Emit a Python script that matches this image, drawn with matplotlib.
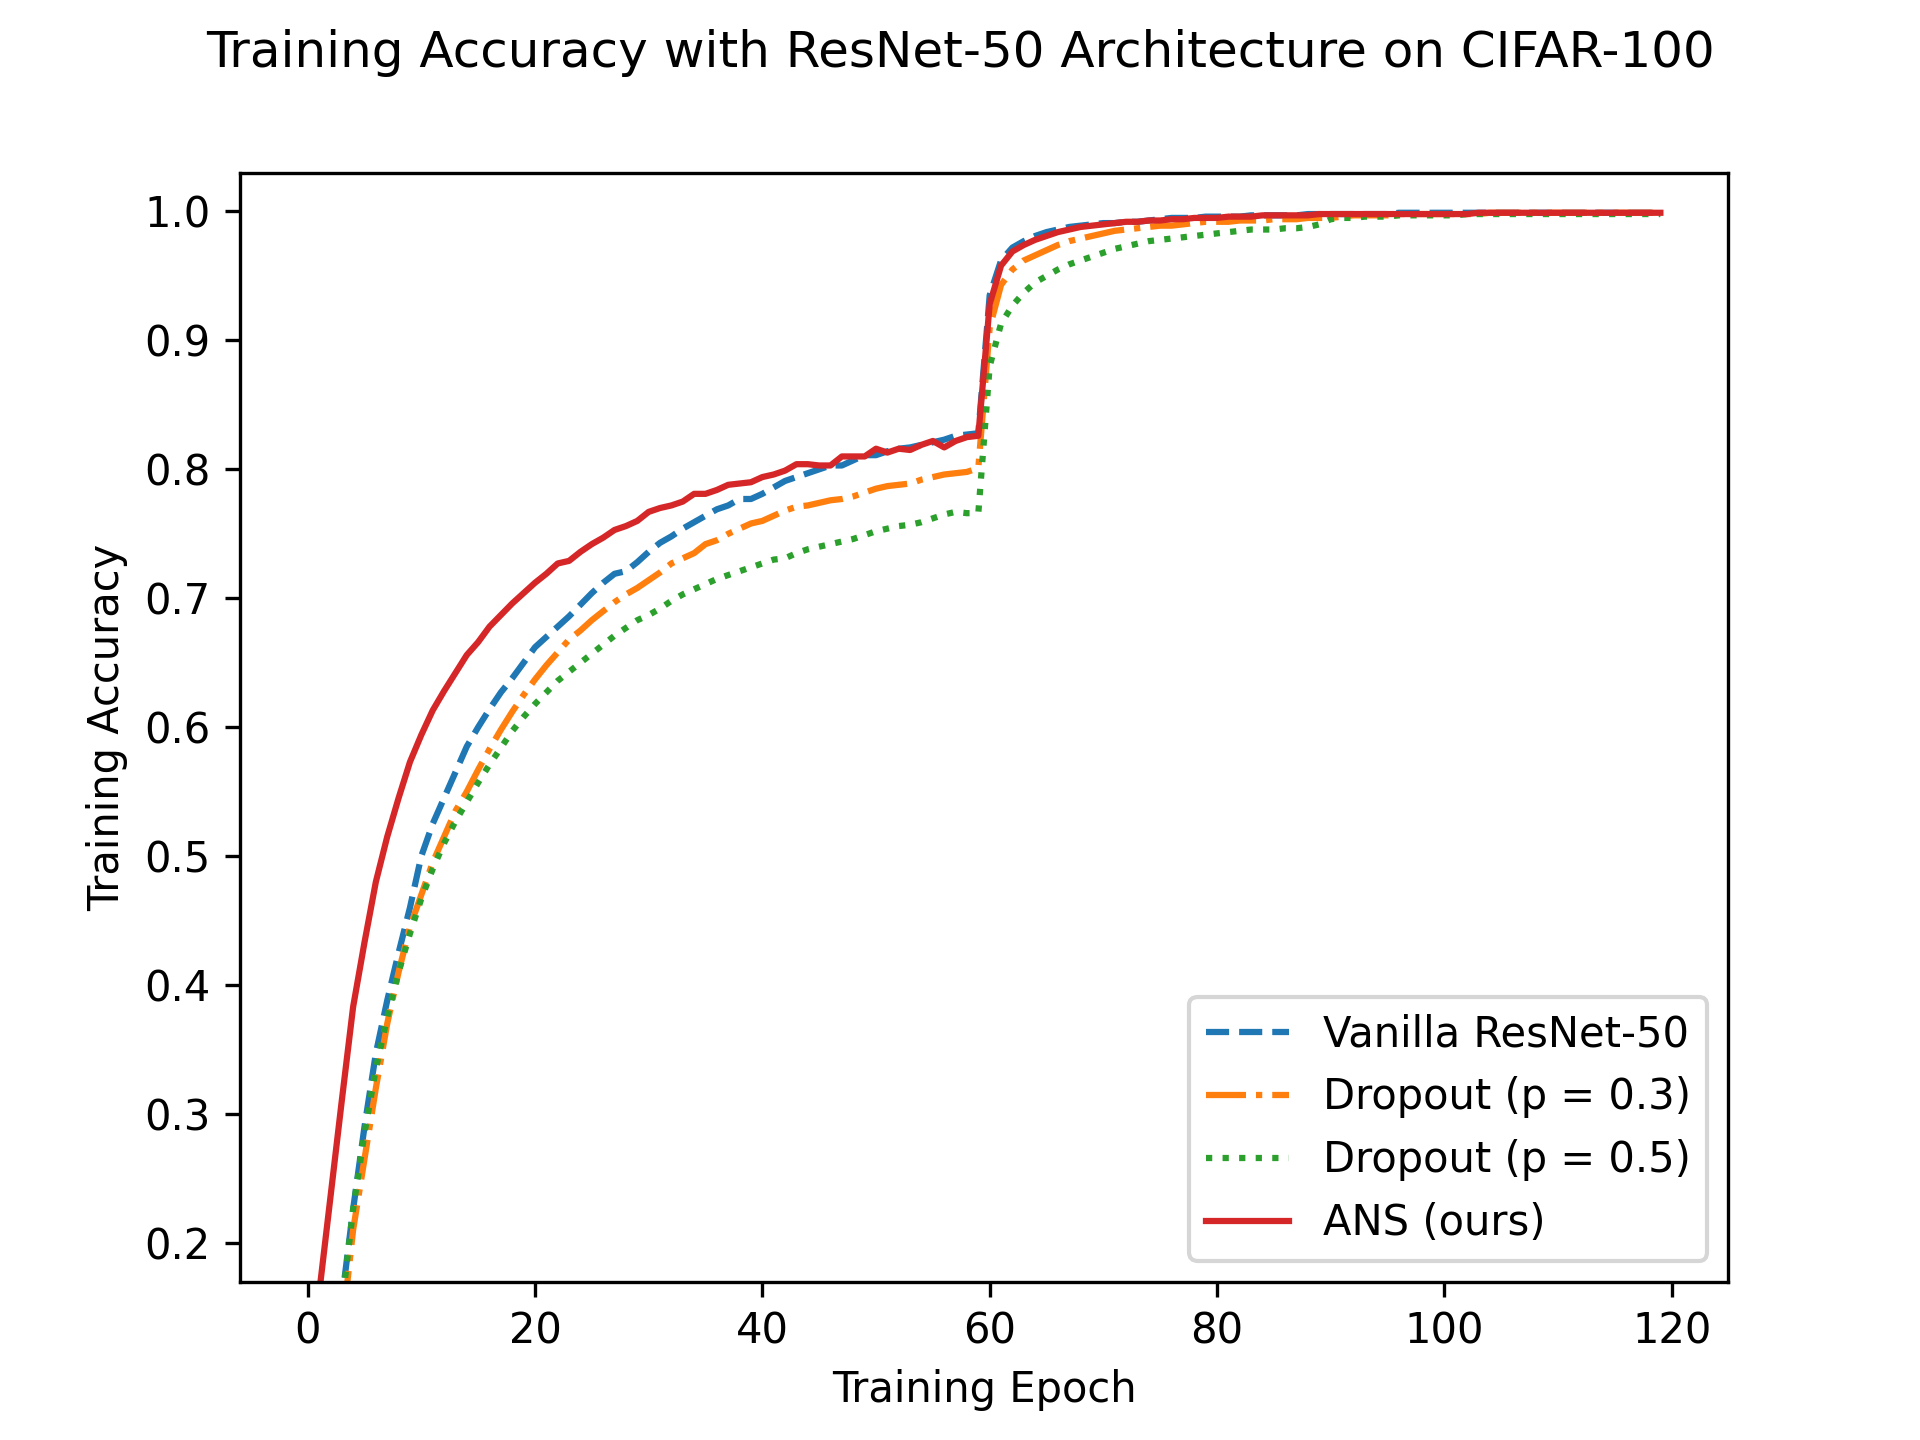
import matplotlib
matplotlib.use("Agg")
import matplotlib.pyplot as plt
import numpy as np

# Training accuracy per epoch
epochs = np.arange(120)

vanilla = [
    0.02, 0.05, 0.09, 0.155, 0.226, 0.29, 0.347, 0.388, 0.425, 0.46,
    0.50, 0.525, 0.545, 0.565, 0.585, 0.600, 0.614, 0.627, 0.638, 0.650,
    0.662, 0.670, 0.678, 0.686, 0.695, 0.704, 0.712, 0.719, 0.721, 0.728,
    0.736, 0.743, 0.748, 0.754, 0.759, 0.764, 0.769, 0.772, 0.777, 0.777,
    0.781, 0.786, 0.791, 0.794, 0.797, 0.800, 0.803, 0.803, 0.807, 0.811,
    0.811, 0.814, 0.816, 0.817, 0.819, 0.821, 0.823, 0.826, 0.827, 0.828,
    0.935, 0.962, 0.972, 0.977, 0.981, 0.984, 0.986, 0.988, 0.989, 0.990,
    0.991, 0.991, 0.992, 0.992, 0.993, 0.994, 0.995, 0.995, 0.995, 0.996,
    0.996, 0.996, 0.996, 0.997, 0.997, 0.997, 0.997, 0.997, 0.998, 0.998,
    0.998, 0.998, 0.998, 0.998, 0.998, 0.998, 0.999, 0.999, 0.999, 0.999,
    0.999, 0.999, 0.999, 0.999, 0.999, 0.999, 0.999, 0.999, 0.999, 0.999,
    0.999, 0.999, 0.999, 0.999, 0.999, 0.999, 0.999, 0.999, 0.999, 0.999,
]

dropout_03 = [
    0.02, 0.04, 0.08, 0.13, 0.21, 0.265, 0.32, 0.37, 0.41, 0.445,
    0.47, 0.495, 0.515, 0.535, 0.55, 0.567, 0.583, 0.598, 0.612, 0.625,
    0.637, 0.648, 0.658, 0.668, 0.675, 0.683, 0.690, 0.697, 0.703, 0.708,
    0.714, 0.720, 0.727, 0.731, 0.735, 0.742, 0.745, 0.750, 0.754, 0.758,
    0.760, 0.764, 0.768, 0.771, 0.772, 0.774, 0.776, 0.777, 0.779, 0.782,
    0.785, 0.787, 0.788, 0.789, 0.792, 0.794, 0.796, 0.797, 0.798, 0.801,
    0.910, 0.943, 0.955, 0.962, 0.966, 0.970, 0.974, 0.977, 0.979, 0.981,
    0.983, 0.985, 0.986, 0.987, 0.988, 0.989, 0.989, 0.990, 0.991, 0.992,
    0.992, 0.992, 0.993, 0.993, 0.993, 0.994, 0.994, 0.994, 0.995, 0.995,
    0.995, 0.996, 0.997, 0.997, 0.997, 0.997, 0.998, 0.998, 0.998, 0.998,
    0.998, 0.998, 0.998, 0.998, 0.999, 0.999, 0.999, 0.999, 0.999, 0.999,
    0.999, 0.999, 0.999, 0.999, 0.999, 0.999, 0.999, 0.999, 0.999, 0.999,
]

dropout_05 = [
    0.02, 0.05, 0.09, 0.15, 0.226, 0.285, 0.335, 0.375, 0.41, 0.44,
    0.467, 0.49, 0.51, 0.527, 0.542, 0.557, 0.571, 0.584, 0.597, 0.608,
    0.618, 0.627, 0.636, 0.643, 0.650, 0.657, 0.664, 0.671, 0.677, 0.683,
    0.687, 0.692, 0.698, 0.703, 0.707, 0.711, 0.715, 0.718, 0.721, 0.724,
    0.727, 0.730, 0.731, 0.735, 0.738, 0.740, 0.742, 0.744, 0.746, 0.749,
    0.752, 0.754, 0.756, 0.757, 0.759, 0.762, 0.765, 0.767, 0.766, 0.766,
    0.880, 0.913, 0.927, 0.937, 0.945, 0.950, 0.955, 0.959, 0.962, 0.965,
    0.968, 0.971, 0.973, 0.975, 0.977, 0.978, 0.979, 0.980, 0.981, 0.982,
    0.983, 0.984, 0.985, 0.986, 0.986, 0.986, 0.987, 0.987, 0.988, 0.990,
    0.994, 0.995, 0.995, 0.996, 0.996, 0.996, 0.997, 0.997, 0.997, 0.997,
    0.997, 0.997, 0.998, 0.998, 0.998, 0.998, 0.998, 0.998, 0.998, 0.998,
    0.998, 0.998, 0.998, 0.998, 0.998, 0.998, 0.998, 0.998, 0.998, 0.998,
]

ans = [
    0.09, 0.16, 0.235, 0.31, 0.383, 0.433, 0.480, 0.515, 0.545, 0.573,
    0.594, 0.613, 0.628, 0.642, 0.656, 0.666, 0.678, 0.687, 0.696, 0.704,
    0.712, 0.719, 0.727, 0.729, 0.736, 0.742, 0.747, 0.753, 0.756, 0.760,
    0.767, 0.770, 0.772, 0.775, 0.781, 0.781, 0.784, 0.788, 0.789, 0.790,
    0.794, 0.796, 0.799, 0.804, 0.804, 0.803, 0.803, 0.810, 0.810, 0.810,
    0.816, 0.813, 0.816, 0.815, 0.819, 0.822, 0.817, 0.822, 0.825, 0.826,
    0.928, 0.958, 0.969, 0.974, 0.978, 0.981, 0.984, 0.986, 0.988, 0.989,
    0.990, 0.991, 0.992, 0.992, 0.993, 0.993, 0.994, 0.994, 0.995, 0.995,
    0.995, 0.996, 0.996, 0.996, 0.997, 0.997, 0.997, 0.997, 0.997, 0.998,
    0.998, 0.998, 0.998, 0.998, 0.998, 0.998, 0.998, 0.998, 0.998, 0.998,
    0.998, 0.998, 0.998, 0.999, 0.999, 0.999, 0.999, 0.999, 0.999, 0.999,
    0.999, 0.999, 0.999, 0.999, 0.999, 0.999, 0.999, 0.999, 0.999, 0.999,
]

fig = plt.figure(figsize=(6.4, 4.8), dpi=300)

plt.plot(epochs, vanilla, '--', color='tab:blue', label='Vanilla ResNet-50')
plt.plot(epochs, dropout_03, '-.', color='tab:orange', label='Dropout (p = 0.3)')
plt.plot(epochs, dropout_05, ':', color='tab:green', label='Dropout (p = 0.5)')
plt.plot(epochs, ans, '-', color='tab:red', label='ANS (ours)')

plt.ylim(0.17, 1.03)
plt.xlabel('Training Epoch')
plt.ylabel('Training Accuracy')
plt.suptitle('Training Accuracy with ResNet-50 Architecture on CIFAR-100')
plt.legend(loc='lower right')

plt.savefig('out.png', dpi=300)
